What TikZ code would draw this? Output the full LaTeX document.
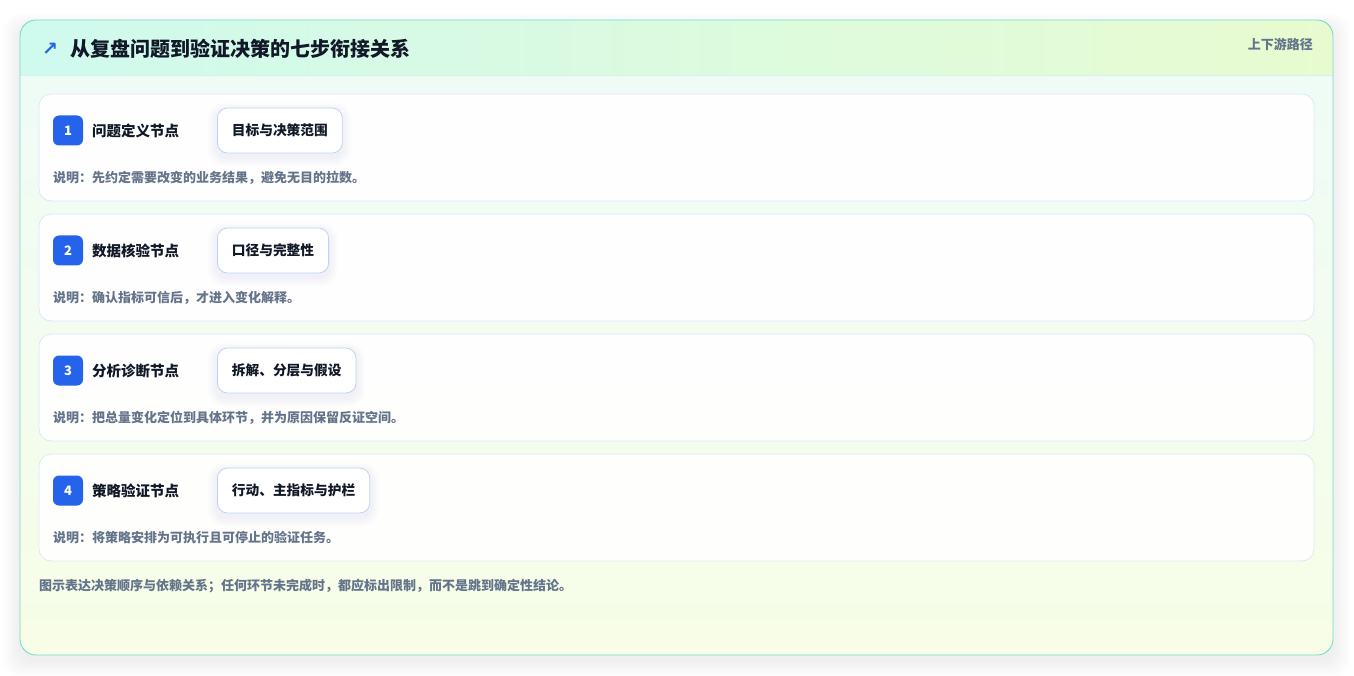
\documentclass[tikz,border=0pt]{standalone}
\usepackage{fontspec}
\setmainfont{Noto Sans CJK SC}
\newfontfamily\djv{DejaVu Sans}
\definecolor{cardborder}{HTML}{74DDCB}
\definecolor{hdrL}{HTML}{CFFAEE}
\definecolor{hdrR}{HTML}{E8FBD0}
\definecolor{bodyT}{HTML}{EEFCF8}
\definecolor{bodyB}{HTML}{F7FDE6}
\definecolor{rowborder}{HTML}{DCE8F8}
\definecolor{pillborder}{HTML}{BFD3F2}
\definecolor{badgeblue}{HTML}{2563EB}
\definecolor{ink}{HTML}{111827}
\definecolor{muted}{HTML}{64748B}
\definecolor{hdrline}{HTML}{D4F1EA}
\definecolor{shadowc}{HTML}{1E3A8A}
\tikzset{
  rowbox/.style={draw=rowborder, line width=0.8pt, fill=white, fill opacity=0.94, rounded corners=12pt},
  badge/.style={fill=badgeblue, rounded corners=6pt, minimum width=30pt, minimum height=30pt, inner sep=0pt, text=white, font=\bfseries\fontsize{13}{13}\selectfont},
  steptitle/.style={anchor=west, inner sep=0pt, text=ink, font=\bfseries\fontsize{14.5}{14.5}\selectfont},
  pillbase/.style={anchor=west, minimum height=45pt, inner xsep=14.5pt, font=\bfseries\fontsize{13.7}{13.7}\selectfont},
  pill/.style={pillbase, draw=pillborder, line width=0.8pt, fill=white, rounded corners=10pt, text=ink},
  pillghost/.style={pillbase, text opacity=0},
  desc/.style={anchor=west, inner sep=0pt, text=muted, font=\bfseries\fontsize{13}{13}\selectfont},
}
\begin{document}
\begin{tikzpicture}[x=1pt,y=-1pt]
\useasboundingbox (0,0) rectangle (1354,676);
\fill[white] (0,0) rectangle (1354,676);
% shadow
\foreach \i in {1,...,16}{
  \fill[black, opacity=0.005, rounded corners=16pt] (20-\i*1.1, 28-\i*0.9) rectangle (1333+\i*1.1, 660+\i*1.1);
}
% card body
\begin{scope}
  \clip[rounded corners=16pt] (20,20) rectangle (1333,655);
  \shade[shading angle=160, top color=bodyT, bottom color=bodyB] (20,20) rectangle (1333,655);
  \shade[left color=hdrL, right color=hdrR] (20,20) rectangle (1333,75);
  \draw[hdrline, line width=0.8pt] (20,75) -- (1333,75);
\end{scope}
\draw[cardborder, line width=0.9pt, rounded corners=16pt] (20,20) rectangle (1333,655);
% header
\node[anchor=center, inner sep=0pt, text=badgeblue, font=\djv\bfseries\fontsize{19}{19}\selectfont] (arrow) at (50,49) {↗};
\node[anchor=west, inner sep=0pt, text=ink, font=\bfseries\fontsize{20}{20}\selectfont] (title) at (70,49) {从复盘问题到验证决策的七步衔接关系};
\node[anchor=east, inner sep=0pt, text=muted, font=\bfseries\fontsize{13}{13}\selectfont] (tag) at (1313,44) {上下游路径};
% rows
\foreach \n/\t/\p/\d [count=\k from 0] in {
  1/问题定义节点/目标与决策范围/说明：先约定需要改变的业务结果，避免无目的拉数。,
  2/数据核验节点/口径与完整性/说明：确认指标可信后，才进入变化解释。,
  3/分析诊断节点/拆解、分层与假设/说明：把总量变化定位到具体环节，并为原因保留反证空间。,
  4/策略验证节点/行动、主指标与护栏/说明：将策略安排为可执行且可停止的验证任务。}{
  \pgfmathsetmacro{\yo}{\k*120}
  \draw[rowbox] (39,94+\yo) rectangle (1314,201+\yo);
  \node[badge] (b\n) at (68,130.5+\yo) {\n};
  \node[steptitle] (t\n) at (92,131+\yo) {\t};
  \node[pillghost] (g\n) at (217,130.5+\yo) {\p};
  \foreach \j in {1,...,7}{
    \fill[shadowc, opacity=0.008, rounded corners=10pt+\j*1pt]
      ([xshift=-\j*1.3pt, yshift=\j*1.3pt-4pt]g\n.north west) rectangle ([xshift=\j*1.3pt, yshift=-\j*1.3pt-4pt]g\n.south east);
  }
  \node[pill] (p\n) at (217,130.5+\yo) {\p};
  \node[desc] (d\n) at (53,178+\yo) {\d};
}
\node[desc] (foot) at (39,586) {图示表达决策顺序与依赖关系；任何环节未完成时，都应标出限制，而不是跳到确定性结论。};
\end{tikzpicture}
\end{document}
